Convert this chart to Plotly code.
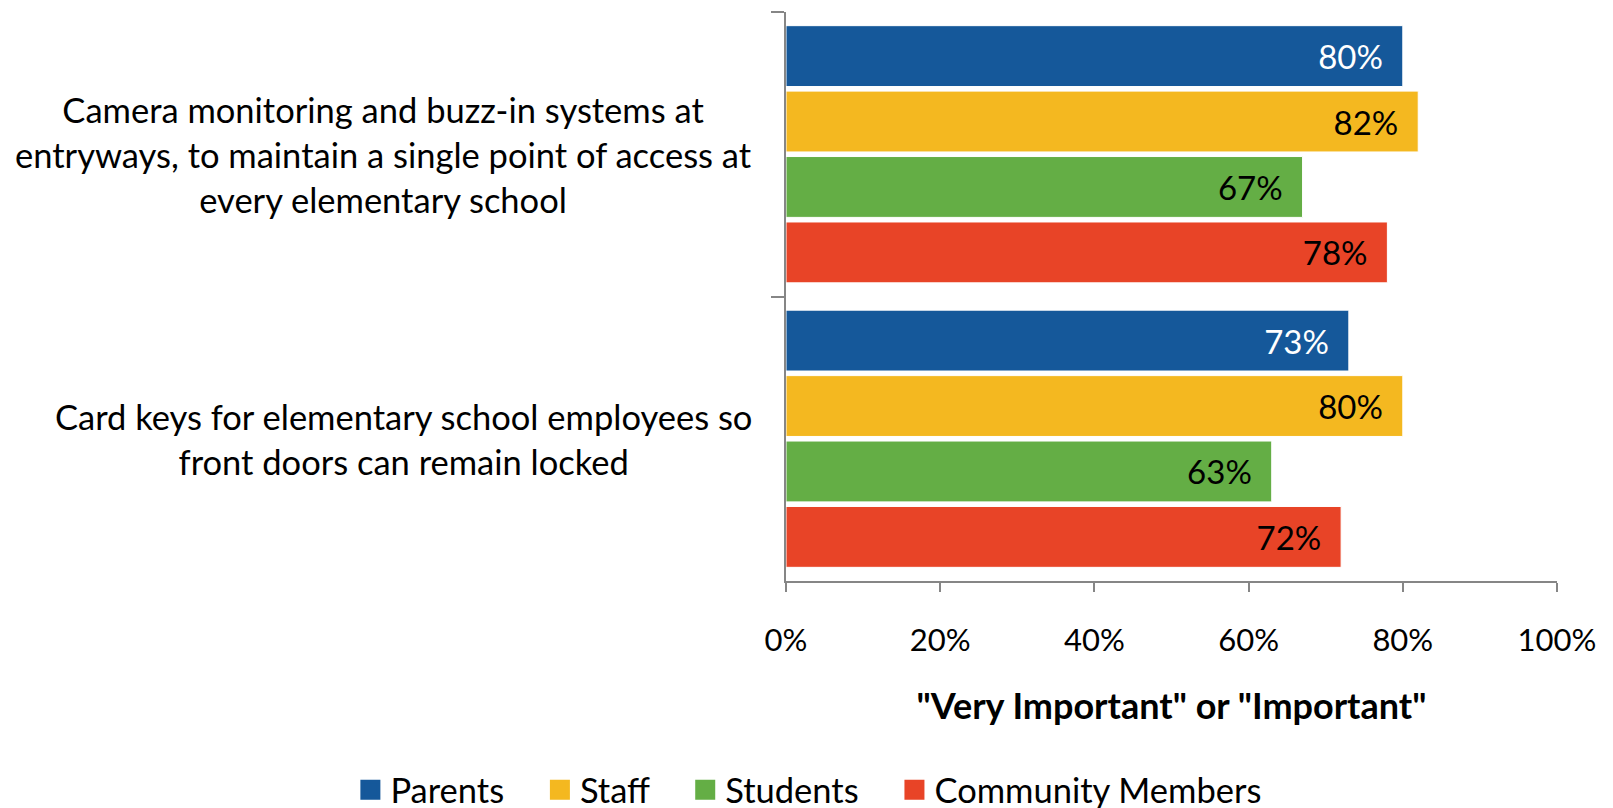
import plotly.graph_objects as go

categories = [
    "Camera monitoring and buzz-in systems at<br>entryways, to maintain a single point of access at<br>every elementary school",
    "Card keys for elementary school employees so<br>front doors can remain locked",
]
series_names = ["Parents", "Staff", "Students", "Community Members"]
parents = [80, 73]
staff = [82, 80]
students = [67, 63]
community = [78, 72]
x_ticks = [0, 20, 40, 60, 80, 100]
x_tick_labels = ["0%", "20%", "40%", "60%", "80%", "100%"]
axis_title = '"Very Important" or "Important"'

colors = ["#15589A", "#F4B820", "#64AE45", "#E84427"]
label_colors = ["white", "black", "black", "black"]
FONT = "Lato"

fig = go.Figure()
for name, vals, col, lc in zip(series_names, [parents, staff, students, community], colors, label_colors):
    fig.add_trace(go.Bar(
        y=categories, x=vals, orientation="h", name=name,
        marker=dict(color=col, line=dict(color="white", width=1)),
        text=[f"{v}%\u00a0\u00a0" for v in vals],
        textposition="inside", insidetextanchor="end",
        textfont=dict(family=FONT, size=33, color=lc),
        constraintext="none",
        showlegend=False,
    ))
    fig.add_trace(go.Scatter(
        x=[None], y=[None], mode="markers", name=name + "\u00a0\u00a0\u00a0\u2009",
        marker=dict(symbol="square", size=20, color=col, line=dict(color=col, width=4)),
        showlegend=True,
    ))

for cat in categories:
    fig.add_annotation(
        x=0, xref="paper", y=cat, yref="y", xshift=-32,
        xanchor="right", yanchor="middle", align="center",
        text=cat, showarrow=False,
        font=dict(family=FONT, size=34.5, color="black"),
    )

fig.update_layout(
    width=1613, height=808,
    paper_bgcolor="white", plot_bgcolor="white",
    margin=dict(l=778, r=64, t=4, b=235, autoexpand=False),
    barmode="group", bargap=0.08, bargroupgap=0.07,
    font=dict(family=FONT, size=32, color="black"),
    legend=dict(
        orientation="h", xref="paper", x=-0.565, xanchor="left",
        yref="paper", y=-0.367, yanchor="middle",
        font=dict(family=FONT, size=34.5, color="black"),
        traceorder="normal", itemsizing="trace",
    ),
    xaxis=dict(
        range=[0, 100], tickvals=x_ticks, ticktext=x_tick_labels,
        showgrid=False, zeroline=False, showline=True, linecolor="#868686", linewidth=2,
        ticks="outside", ticklen=9, tickcolor="#868686", tickwidth=2,
        ticklabelstandoff=22,
        tickfont=dict(family=FONT, size=31, color="black"),
        title=dict(text=f"<b>{axis_title}</b>", standoff=37,
                   font=dict(family=FONT, size=36, color="black")),
    ),
    yaxis=dict(
        autorange="reversed", showgrid=False, zeroline=False,
        showline=True, linecolor="#868686", linewidth=2,
        ticks="outside", tickson="boundaries", ticklen=13, tickcolor="#868686", tickwidth=2,
        showticklabels=False,
    ),
)

fig.write_html("out.html")
